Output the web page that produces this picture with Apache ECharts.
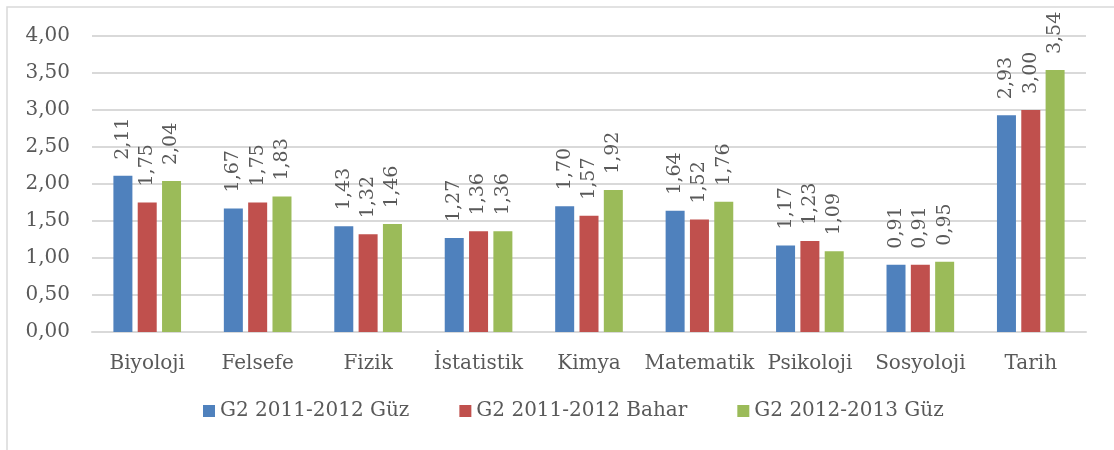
<!DOCTYPE html>
<html>
<head>
<meta charset="utf-8">
<script src="https://cdn.jsdelivr.net/npm/echarts@6/dist/echarts.min.js"></script>
<style>
  html, body { margin: 0; padding: 0; background: #fff; }
  #main { width: 1114px; height: 450px; }
</style>
</head>
<body>
<div id="main"></div>
<script>
// data
const categories = ['Biyoloji', 'Felsefe', 'Fizik', 'İstatistik', 'Kimya', 'Matematik', 'Psikoloji', 'Sosyoloji', 'Tarih'];
const seriesNames = ['G2 2011-2012 Güz', 'G2 2011-2012 Bahar', 'G2 2012-2013 Güz'];
const guz2011 = [2.11, 1.67, 1.43, 1.27, 1.70, 1.64, 1.17, 0.91, 2.93];
const bahar2011 = [1.75, 1.75, 1.32, 1.36, 1.57, 1.52, 1.23, 0.91, 3.00];
const guz2012 = [2.04, 1.83, 1.46, 1.36, 1.92, 1.76, 1.09, 0.95, 3.54];

const colors = ['#4F81BD', '#C0504D', '#9BBB59'];
const font = 'DejaVu Serif';
const txt = '#595959';

const fmt = v => v.toFixed(2).replace('.', ',');

function bar(name, data) {
  return {
    name: name,
    type: 'bar',
    data: data,
    barWidth: 19,
    barGap: '28%',
    label: {
      show: true,
      position: 'top',
      rotate: 90,
      align: 'left',
      verticalAlign: 'middle',
      distance: 16,
      color: txt,
      fontFamily: font,
      fontSize: 19,
      formatter: p => fmt(p.value)
    }
  };
}

const chart = echarts.init(document.getElementById('main'));
chart.setOption({
  animation: false,
  color: colors,
  graphic: [{
    type: 'rect',
    shape: { x: 7, y: 7, width: 1130, height: 470 },
    style: { fill: 'none', stroke: '#d9d9d9', lineWidth: 1.5 },
    silent: true
  }],
  grid: { left: 92, right: 28, top: 36, bottom: 118 },
  legend: {
    data: seriesNames,
    bottom: 24,
    left: 198,
    itemWidth: 12,
    itemHeight: 12,
    itemGap: 50,
    icon: 'rect',
    textStyle: { color: txt, fontFamily: font, fontSize: 20 }
  },
  xAxis: {
    type: 'category',
    data: categories,
    axisTick: { show: false },
    axisLine: { lineStyle: { color: '#d9d9d9', width: 2 } },
    axisLabel: { color: txt, fontFamily: font, fontSize: 20, margin: 22, interval: 0 }
  },
  yAxis: {
    type: 'value',
    min: 0,
    max: 4,
    interval: 0.5,
    axisLine: { show: false },
    axisTick: { show: false },
    splitLine: { lineStyle: { color: '#d9d9d9', width: 2 } },
    axisLabel: { color: txt, fontFamily: font, fontSize: 20, margin: 22, formatter: v => fmt(v) }
  },
  series: [
    bar(seriesNames[0], guz2011),
    bar(seriesNames[1], bahar2011),
    bar(seriesNames[2], guz2012)
  ]
});
</script>
</body>
</html>
